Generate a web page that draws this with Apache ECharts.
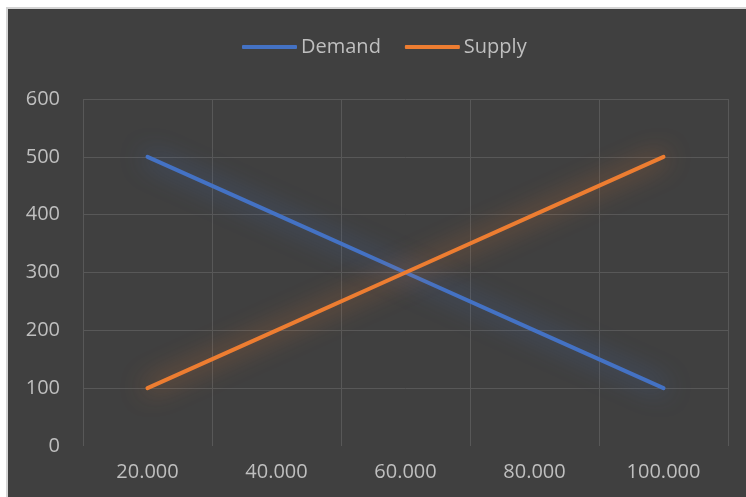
<!DOCTYPE html>
<html>
<head>
<meta charset="utf-8">
<script src="https://cdn.jsdelivr.net/npm/echarts@6/dist/echarts.min.js"></script>
<style>
  html, body { margin: 0; padding: 0; background: #ffffff; }
  #chart { width: 746px; height: 497px; }
</style>
</head>
<body>
<div id="chart"></div>
<script>
// Quantity categories along the x axis
const quantities = ['20.000', '40.000', '60.000', '80.000', '100.000'];
// Price values per quantity
const demand = [500, 400, 300, 200, 100];
const supply = [100, 200, 300, 400, 500];
// Price axis ticks
const priceMin = 0;
const priceMax = 600;
const priceStep = 100;

const textColor = '#bfbfbf';
const gridColor = '#585858';
const fontFamily = '"Open Sans", "Noto Sans", sans-serif';

const chart = echarts.init(document.getElementById('chart'), null, { renderer: 'canvas' });

function lineSeries(name, values, color, glow) {
  return {
    name: name,
    type: 'line',
    data: values,
    showSymbol: false,
    symbol: 'none',
    lineStyle: {
      color: color,
      width: 4,
      cap: 'round',
      shadowColor: glow,
      shadowBlur: 26
    },
    itemStyle: { color: color },
    emphasis: { disabled: true }
  };
}

chart.setOption({
  backgroundColor: '#ffffff',
  animation: false,
  graphic: [{
    type: 'rect',
    z: -10,
    silent: true,
    shape: { x: 7, y: 8, width: 745, height: 495 },
    style: { fill: '#404040', stroke: '#d4d4d4', lineWidth: 2 }
  }],
  legend: {
    left: 237,
    top: 32,
    itemWidth: 55,
    itemHeight: 4,
    itemGap: 24,
    icon: 'roundRect',
    textStyle: { color: textColor, fontSize: 20, fontFamily: fontFamily, padding: [0, 0, 0, -1] },
    data: ['Demand', 'Supply']
  },
  grid: { left: 83, right: 18, top: 99, bottom: 51, containLabel: false },
  xAxis: {
    type: 'category',
    data: quantities,
    boundaryGap: true,
    axisLine: { show: false },
    axisTick: { show: false },
    axisLabel: { color: textColor, fontSize: 20, fontFamily: fontFamily, margin: 16 },
    splitLine: { show: true, lineStyle: { color: gridColor, width: 1 } }
  },
  yAxis: {
    type: 'value',
    min: priceMin,
    max: priceMax,
    interval: priceStep,
    axisLine: { show: false },
    axisTick: { show: false },
    axisLabel: { color: textColor, fontSize: 20, fontFamily: fontFamily, margin: 23 },
    splitLine: { show: true, showMinLine: false, lineStyle: { color: gridColor, width: 1 } }
  },
  series: [
    lineSeries('Demand', demand, '#4472c4', 'rgba(68,114,196,0.85)'),
    lineSeries('Supply', supply, '#ed7d31', 'rgba(237,125,49,0.85)')
  ]
});
</script>
</body>
</html>
